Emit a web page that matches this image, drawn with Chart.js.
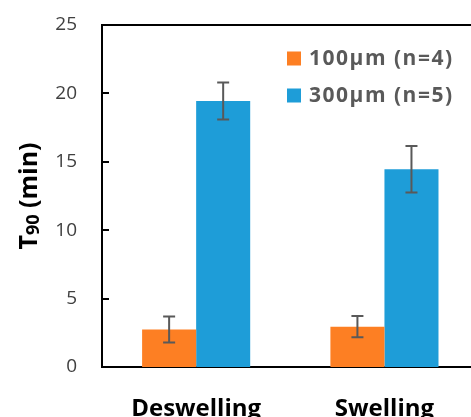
<!DOCTYPE html>
<html>
<head>
<meta charset="utf-8">
<script src="https://cdn.jsdelivr.net/npm/chart.js@4"></script>
<style>
html,body{margin:0;padding:0;overflow:hidden;background:#fff;width:471px;height:417px;}
canvas{display:block;}
</style>
</head>
<body>
<canvas id="c" width="490" height="417"></canvas>
<script>
const categories = ['Deswelling', 'Swelling'];
const labels100 = '100µm (n=4)';
const labels300 = '300µm (n=5)';
const values100 = [2.75, 2.95];
const errors100 = [0.95, 0.77];
const values300 = [19.45, 14.45];
const errors300 = [1.35, 1.7];
const yTicks = [0, 5, 10, 15, 20, 25];
const yTitleParts = ['T', '90', ' (min)'];

const errorsByDataset = [errors100, errors300];

const errorBarPlugin = {
  id: 'errorBars',
  afterDatasetsDraw(chart) {
    const ctx = chart.ctx;
    const y = chart.scales.y;
    ctx.save();
    ctx.strokeStyle = '#595959';
    ctx.lineWidth = 2;
    chart.data.datasets.forEach((ds, di) => {
      const meta = chart.getDatasetMeta(di);
      const errs = errorsByDataset[di];
      meta.data.forEach((bar, i) => {
        const v = ds.data[i];
        const yTop = y.getPixelForValue(v + errs[i]);
        const yBot = y.getPixelForValue(v - errs[i]);
        const x = bar.x;
        ctx.beginPath();
        ctx.moveTo(x, yTop); ctx.lineTo(x, yBot);
        ctx.moveTo(x - 6, yTop); ctx.lineTo(x + 6, yTop);
        ctx.moveTo(x - 6, yBot); ctx.lineTo(x + 6, yBot);
        ctx.stroke();
      });
    });
    ctx.restore();
  },
  afterDraw(chart) {
    const ctx = chart.ctx;
    const a = chart.chartArea;
    const y = chart.scales.y;
    ctx.save();
    ctx.fillStyle = '#000000';
    // top border (backup) and inner tick marks
    ctx.fillRect(a.left - 1, a.top - 1, a.right - a.left + 30, 2);
    yTicks.forEach(t => {
      const py = Math.round(y.getPixelForValue(t));
      ctx.fillRect(a.left, py - 1, 7, 2);
    });
    ctx.restore();
    ctx.save();
    // y title with smaller "90"
    ctx.save();
    ctx.translate(28, (a.top + a.bottom) / 2);
    ctx.rotate(-Math.PI / 2);
    ctx.fillStyle = '#000';
    ctx.textBaseline = 'alphabetic';
    ctx.textAlign = 'left';
    const big = 'bold 25px "Open Sans"';
    const small = 'bold 18px "Open Sans"';
    ctx.font = big; const w0 = ctx.measureText(yTitleParts[0]).width;
    ctx.font = small; const w1 = ctx.measureText(yTitleParts[1]).width;
    ctx.font = big; const w2 = ctx.measureText(yTitleParts[2]).width;
    let x0 = -(w0 + w1 + w2) / 2;
    const base = 9;
    ctx.font = big; ctx.fillText(yTitleParts[0], x0, base); x0 += w0;
    ctx.font = small; ctx.fillText(yTitleParts[1], x0, base + 2); x0 += w1;
    ctx.font = big; ctx.fillText(yTitleParts[2], x0, base);
    ctx.restore();
    // legend
    ctx.font = 'bold 21px "Open Sans"';
    ctx.textBaseline = 'middle';
    ctx.textAlign = 'left';
    try { ctx.letterSpacing = '1.5px'; } catch (e) {}
    const rows = [58.5, 95.5];
    chart.data.datasets.forEach((ds, di) => {
      ctx.fillStyle = ds.backgroundColor;
      ctx.fillRect(287, rows[di] - 7, 14, 14);
      ctx.fillStyle = '#595959';
      ctx.fillText(ds.label, 309, rows[di] + 1);
    });
    ctx.restore();
  }
};

new Chart(document.getElementById('c'), {
  type: 'bar',
  data: {
    labels: categories,
    datasets: [
      { label: labels100, data: values100, backgroundColor: '#FD7F23', barPercentage: 1, categoryPercentage: 0.574, xAxisID: 'x' },
      { label: labels300, data: values300, backgroundColor: '#1E9DD8', barPercentage: 1, categoryPercentage: 0.574, xAxisID: 'x' }
    ]
  },
  options: {
    responsive: false,
    animation: false,
    devicePixelRatio: 1,
    layout: { padding: { top: 25, right: 11.4, left: 0, bottom: 0 } },
    plugins: { legend: { display: false }, tooltip: { enabled: false } },
    scales: {
      x: {
        grid: { display: false, drawTicks: false },
        border: { display: true, color: '#000', width: 2 },
        ticks: { color: '#000', font: { family: 'Open Sans', weight: 'bold', size: 24 }, padding: 28 },
        afterFit(s) { s.height = 50; s.paddingLeft = 0; s.paddingRight = 0; }
      },
      xTop: {
        type: 'category',
        position: 'top',
        labels: categories,
        grid: { display: false, drawTicks: false },
        border: { display: true, color: '#000', width: 2 },
        ticks: { display: false },
        afterFit(s) { s.height = 0; s.paddingLeft = 0; s.paddingRight = 0; }
      },
      y: {
        min: 0, max: 25,
        afterBuildTicks(s) { s.ticks = yTicks.map(v => ({ value: v })); },
        grid: { display: false, drawTicks: false },
        border: { display: true, color: '#000', width: 2 },
        ticks: { color: '#404040', font: { family: 'Open Sans', size: 19 }, padding: 25 },
        title: { display: false },
        afterFit(s) { s.width = 102; s.paddingTop = 0; s.paddingBottom = 0; }
      }
    }
  },
  plugins: [errorBarPlugin]
});
</script>
</body>
</html>
